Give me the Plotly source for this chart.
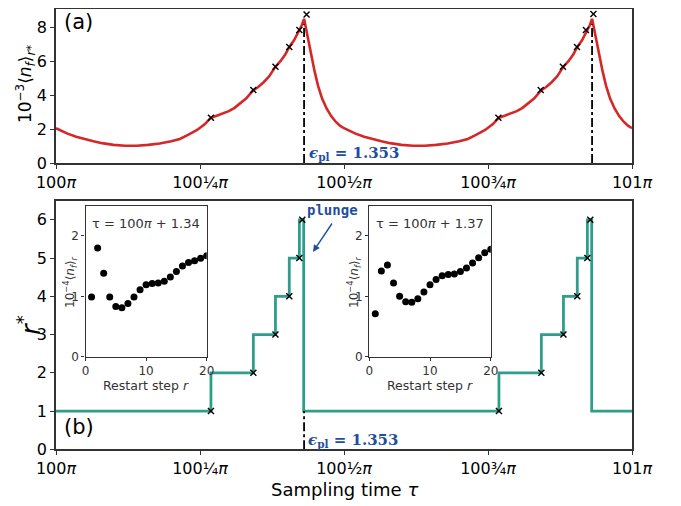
import plotly.graph_objects as go

# page body adds an 8px margin, so the figure is drawn 8px smaller and offset
OFF = 8
W, H = 681 - OFF, 506 - OFF

# ---- data (x in units of pi, offset from 100*pi) ----
tau_a = [0.000, 0.010, 0.020, 0.035, 0.050, 0.065, 0.080, 0.100, 0.120, 0.140,
         0.160, 0.180, 0.200, 0.215, 0.230, 0.245, 0.258, 0.269,
         0.280, 0.290, 0.300, 0.310, 0.320, 0.330, 0.3426,
         0.350, 0.360, 0.370, 0.381, 0.390, 0.398, 0.405, 0.413, 0.4225, 0.4267, 0.4307,
         0.434, 0.438, 0.443, 0.449, 0.455, 0.462, 0.470, 0.478, 0.486, 0.493,
         0.500, 0.510, 0.520, 0.535, 0.550, 0.565, 0.580, 0.600, 0.620, 0.640,
         0.660, 0.680, 0.700, 0.715, 0.730, 0.745, 0.758, 0.769,
         0.780, 0.790, 0.800, 0.810, 0.820, 0.830, 0.8426,
         0.850, 0.860, 0.870, 0.881, 0.890, 0.898, 0.905, 0.913, 0.9225, 0.9267, 0.9307,
         0.934, 0.938, 0.943, 0.949, 0.955, 0.962, 0.970, 0.978, 0.986, 0.993, 1.000]
nf_a = [2.05, 1.88, 1.73, 1.55, 1.40, 1.28, 1.17, 1.07, 1.02, 1.02,
        1.07, 1.15, 1.28, 1.42, 1.67, 1.95, 2.28, 2.67,
        2.80, 2.92, 3.06, 3.25, 3.50, 3.80, 4.30,
        4.45, 4.75, 5.10, 5.68, 6.02, 6.40, 6.84, 7.22, 7.84, 8.12, 8.50,
        7.90, 7.25, 6.40, 5.40, 4.55, 3.80, 3.20, 2.75, 2.42, 2.20,
        2.05, 1.88, 1.73, 1.55, 1.40, 1.28, 1.17, 1.07, 1.02, 1.02,
        1.07, 1.15, 1.28, 1.42, 1.67, 1.95, 2.28, 2.67,
        2.80, 2.92, 3.06, 3.25, 3.50, 3.80, 4.30,
        4.45, 4.75, 5.10, 5.68, 6.02, 6.40, 6.84, 7.22, 7.84, 8.12, 8.50,
        7.90, 7.25, 6.40, 5.40, 4.55, 3.80, 3.20, 2.75, 2.42, 2.20, 2.05]

kink_tau = [0.269, 0.3426, 0.381, 0.405, 0.4225, 0.435,
            0.768, 0.8415, 0.880, 0.9045, 0.920, 0.933]
kink_nf = [2.67, 4.30, 5.68, 6.84, 7.84, 8.75,
           2.67, 4.30, 5.68, 6.84, 7.84, 8.78]

tau_b = [0.0, 0.269, 0.3426, 0.381, 0.405, 0.4225, 0.4300,
         0.769, 0.8426, 0.881, 0.905, 0.9225, 0.9300, 1.0]
rstar_b = [1, 2, 3, 4, 5, 6, 1, 2, 3, 4, 5, 6, 1, 1]

step_tau = [0.269, 0.3426, 0.381, 0.405, 0.4225, 0.4276,
            0.769, 0.8426, 0.881, 0.905, 0.9225, 0.9276]
step_r = [1, 2, 3, 4, 5, 6, 1, 2, 3, 4, 5, 6]

eps_pl = 1.353

restart_r = list(range(1, 21))
nf_134 = [0.99, 1.80, 1.38, 0.99, 0.83, 0.81, 0.88, 0.99, 1.11, 1.19,
          1.21, 1.22, 1.25, 1.32, 1.41, 1.50, 1.56, 1.59, 1.63, 1.67]
nf_137 = [0.71, 1.42, 1.52, 1.22, 1.00, 0.91, 0.90, 0.96, 1.07, 1.19,
          1.28, 1.34, 1.36, 1.37, 1.41, 1.47, 1.55, 1.64, 1.72, 1.78]

tick_vals = [0, 0.25, 0.5, 0.75, 1]
tick_text = ["100<i>π</i>", "100¼<i>π</i>", "100½<i>π</i>", "100¾<i>π</i>", "101<i>π</i>"]


def px_x(p):
    return (p - OFF) / W


def px_y(p):
    return 1 - (p - OFF) / H


RED = "#d62728"
TEAL = "#2e9e8c"
BLUE = "#1f4e9c"
FRAME = "#333333"

fig = go.Figure()

# (a) curve
fig.add_trace(go.Scatter(x=tau_a, y=nf_a, mode="lines", line=dict(color=RED, width=2.6),
                         xaxis="x", yaxis="y", showlegend=False, cliponaxis=False))
fig.add_trace(go.Scatter(x=kink_tau, y=kink_nf, mode="markers",
                         marker=dict(symbol="x-thin", size=6, line=dict(color="black", width=1.4)),
                         xaxis="x", yaxis="y", showlegend=False, cliponaxis=False))
e = eps_pl / 3.141592653589793
for xe in [e, e + 0.5]:
    fig.add_trace(go.Scatter(x=[xe, xe], y=[0, 8.2], mode="lines",
                             line=dict(color="black", width=1.8, dash="dashdot"),
                             xaxis="x", yaxis="y", showlegend=False))

# (b) steps
fig.add_trace(go.Scatter(x=tau_b, y=rstar_b, mode="lines", line=dict(color=TEAL, width=2.8, shape="hv"),
                         xaxis="x2", yaxis="y2", showlegend=False))
fig.add_trace(go.Scatter(x=step_tau, y=step_r, mode="markers",
                         marker=dict(symbol="x-thin", size=6, line=dict(color="black", width=1.4)),
                         xaxis="x2", yaxis="y2", showlegend=False))
fig.add_trace(go.Scatter(x=[e, e], y=[0, 1], mode="lines",
                         line=dict(color="black", width=1.8, dash="dashdot"),
                         xaxis="x2", yaxis="y2", showlegend=False))

# insets
fig.add_trace(go.Scatter(x=restart_r, y=nf_134, mode="markers", marker=dict(color="black", size=7),
                         xaxis="x3", yaxis="y3", showlegend=False))
fig.add_trace(go.Scatter(x=restart_r, y=nf_137, mode="markers", marker=dict(color="black", size=7),
                         xaxis="x4", yaxis="y4", showlegend=False))

main_ax = dict(showgrid=False, zeroline=False, showline=True, mirror=True, linecolor=FRAME,
               linewidth=1.5, ticks="outside", ticklen=4, tickcolor=FRAME, automargin=False,
               tickfont=dict(size=16, color="black"))
inset_ax = dict(showgrid=False, zeroline=False, showline=True, mirror=True, linecolor=FRAME,
                linewidth=1.3, ticks="outside", ticklen=3, tickcolor=FRAME, automargin=False,
                tickfont=dict(size=12, color="#333333"))

# panel (a): top edge sits 1px below the figure top; range keeps 16.96 px per unit
a_top, a_bot = 9, 163
a_ymax = (a_bot - a_top) / 16.96

dom_x = [px_x(56), px_x(632)]
fig.update_layout(
    width=W, height=H, margin=dict(l=0, r=0, t=0, b=0, pad=0, autoexpand=False),
    plot_bgcolor="white", paper_bgcolor="white",
    font=dict(family="DejaVu Sans", color="black"),
    xaxis=dict(main_ax, domain=dom_x, range=[0, 1], tickvals=tick_vals, ticktext=tick_text, anchor="y"),
    yaxis=dict(main_ax, domain=[px_y(a_bot), px_y(a_top)], range=[0, a_ymax],
               tickvals=[0, 2, 4, 6, 8], anchor="x"),
    xaxis2=dict(main_ax, domain=dom_x, range=[0, 1], tickvals=tick_vals, ticktext=tick_text, anchor="y2"),
    yaxis2=dict(main_ax, domain=[px_y(449.3), px_y(200.7)], range=[0, 6.5], tickvals=[0, 1, 2, 3, 4, 5, 6], anchor="x2"),
    xaxis3=dict(inset_ax, domain=[px_x(85.5), px_x(206.7)], range=[0, 20], tickvals=[0, 10, 20], anchor="y3"),
    yaxis3=dict(inset_ax, domain=[px_y(356.7), px_y(205.7)], range=[0, 2.5], tickvals=[0, 1, 2], anchor="x3"),
    xaxis4=dict(inset_ax, domain=[px_x(369.2), px_x(490.8)], range=[0, 20], tickvals=[0, 10, 20], anchor="y4"),
    yaxis4=dict(inset_ax, domain=[px_y(356.7), px_y(205.7)], range=[0, 2.5], tickvals=[0, 1, 2], anchor="x4"),
)

ann = []


def label(text, x, y, size, angle=0, color="black", family="DejaVu Sans", xanchor="center"):
    ann.append(dict(text=text, x=px_x(x), y=px_y(y), xref="paper", yref="paper", showarrow=False,
                    textangle=angle, xanchor=xanchor, yanchor="middle",
                    font=dict(size=size, color=color, family=family)))


label("10<sup>−3</sup>⟨<i>n<sub>f</sub></i>⟩<sub><i>r</i>*</sub>", 25, 84, 17, angle=-90)
label("<i>r</i><sup>*</sup>", 29, 325, 26, angle=-90)
label("Sampling time <i>τ</i>", 344, 489, 18)
label("(a)", 62, 22, 21, xanchor="left")
label("(b)", 62, 427, 21, xanchor="left")
label("<b><i>ϵ</i><sub>pl</sub> = 1.353</b>", 307, 153, 15, color=BLUE, family="DejaVu Serif", xanchor="left")
label("<b><i>ϵ</i><sub>pl</sub> = 1.353</b>", 306, 440, 15, color=BLUE, family="DejaVu Serif", xanchor="left")
label("<b>plunge</b>", 332, 210, 14, color=BLUE, family="DejaVu Sans Mono")
for cx, ylab_x, txt in [(146, 70, "τ = 100<i>π</i> + 1.34"), (430, 354, "τ = 100<i>π</i> + 1.37")]:
    label(txt, cx, 223, 13, color="#333333")
    label("Restart step <i>r</i>", cx, 385, 12.5, color="#333333")
    label("10<sup>−4</sup>⟨<i>n<sub>f</sub></i>⟩<sub><i>r</i></sub>", ylab_x, 282, 12, angle=-90, color="#333333")

ann.append(dict(x=px_x(313), y=px_y(252), xref="paper", yref="paper", ax=20, ay=-30,
                showarrow=True, arrowhead=2, arrowsize=1, arrowwidth=1.4, arrowcolor=BLUE, text=""))

fig.update_layout(annotations=ann)
fig.write_html("out.html")
